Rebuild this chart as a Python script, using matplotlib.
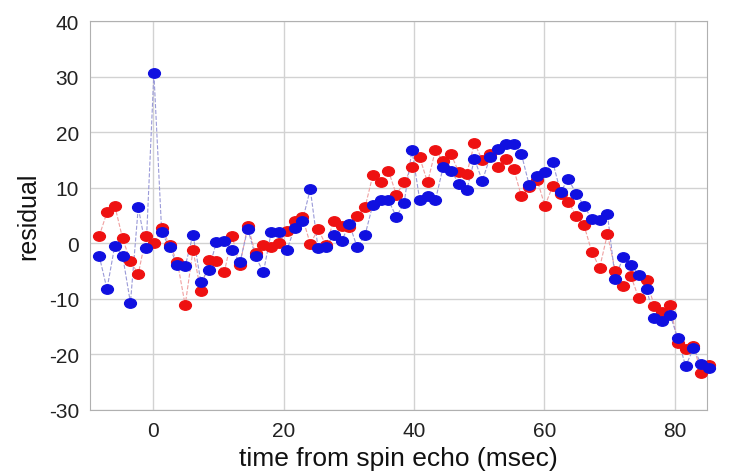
import matplotlib
matplotlib.use('Agg')
from matplotlib import pyplot as plt
from matplotlib.path import Path
from matplotlib.transforms import Affine2D

# sample times (msec from spin echo)
t = [-8.3, -7.1, -5.9, -4.7, -3.5, -2.3, -1.1, 0.1, 1.3, 2.5,
     3.7, 4.9, 6.1, 7.3, 8.5, 9.7, 10.9, 12.1, 13.3, 14.5,
     15.7, 16.9, 18.1, 19.3, 20.5, 21.7, 22.9, 24.1, 25.3, 26.5,
     27.7, 28.9, 30.1, 31.3, 32.5, 33.7, 34.9, 36.1, 37.3, 38.5,
     39.7, 40.9, 42.1, 43.3, 44.5, 45.7, 46.9, 48.1, 49.3, 50.5,
     51.7, 52.9, 54.1, 55.3, 56.5, 57.7, 58.9, 60.1, 61.3, 62.5,
     63.7, 64.9, 66.1, 67.3, 68.5, 69.7, 70.9, 72.1, 73.3, 74.5,
     75.7, 76.9, 78.1, 79.3, 80.5, 81.7, 82.9, 84.1, 85.3]

red_res = [1.3, 5.6, 6.8, 0.9, -3.2, -5.5, 1.3, 0.0, 2.7, -0.2,
           -3.3, -11.1, -1.2, -8.6, -2.9, -3.2, -5.2, 1.3, -3.9, 3.2,
           -1.8, -0.2, -0.7, 0.0, 2.3, 4.1, 4.7, -0.1, 2.6, -0.3,
           4.1, 3.2, 3.0, 5.0, 6.5, 12.3, 11.0, 13.1, 8.8, 11.0,
           13.8, 15.5, 11.0, 16.8, 14.8, 16.1, 12.8, 12.5, 18.1, 15.0,
           16.1, 13.8, 15.2, 13.5, 8.5, 10.1, 11.5, 6.8, 10.3, 9.0,
           7.5, 5.0, 3.3, -1.5, -4.4, 1.7, -4.9, -7.6, -5.9, -9.8,
           -6.6, -11.3, -12.4, -11.1, -17.9, -19.1, -18.4, -23.4, -21.9]

blue_res = [-2.2, -8.2, -0.4, -2.2, -10.7, 6.5, -0.9, 30.7, 2.0, -0.7,
            -3.9, -4.1, 1.6, -6.9, -4.7, 0.2, 0.5, -1.2, -3.4, 2.6,
            -2.3, -5.2, 2.0, 2.0, -1.2, 2.8, 4.1, 9.8, -0.9, -0.6,
            1.5, 0.4, 3.5, -0.7, 1.5, 7.0, 7.8, 7.8, 4.8, 7.3,
            16.8, 7.8, 8.6, 7.8, 13.8, 13.1, 10.8, 9.6, 15.2, 11.3,
            15.6, 17.0, 17.9, 17.9, 16.1, 10.5, 12.2, 12.8, 14.7, 9.3,
            11.6, 9.0, 6.8, 4.4, 4.2, 5.3, -6.4, -2.4, -3.9, -5.6,
            -8.2, -13.5, -13.9, -12.8, -17.1, -22.1, -18.9, -21.7, -22.4]

plt.rcParams['font.family'] = ['Liberation Sans', 'DejaVu Sans']
plt.rcParams['axes.unicode_minus'] = False

# slightly squashed circle, like the stretched original
oval = Path.unit_circle().transformed(Affine2D().scale(1.0, 0.8))

fig = plt.figure(figsize=(7.29, 4.77), dpi=100)
ax = fig.add_axes([0.1235, 0.1384, 0.8465, 0.8145])

# faint dashed connectors
ax.plot(t, red_res, ls='--', lw=0.8, color='#f0a0a0', zorder=2)
ax.plot(t, blue_res, ls='--', lw=0.8, color='#9a9ad8', zorder=2)
ax.plot(t, red_res, ls='none', marker=oval, ms=8.5, color='#ee1111',
        mec='#ee1111', zorder=3, clip_on=False)
ax.plot(t, blue_res, ls='none', marker=oval, ms=8.5, color='#1010e0',
        mec='#1010e0', zorder=4, clip_on=False)

ax.set_xlim(-9.7, 85)
ax.set_ylim(-30, 40)
ax.set_xticks([0, 20, 40, 60, 80])
ax.set_yticks(range(-30, 41, 10))
ax.grid(True, color='#d2d2d2', lw=1)
ax.set_axisbelow(True)
for s in ax.spines.values():
    s.set_color('#b0b0b0')
ax.tick_params(length=0, labelsize=15, pad=8, colors='#222222')
ax.set_xlabel('time from spin echo (msec)', fontsize=19, color='#111111', labelpad=4)
ax.set_ylabel('residual', fontsize=18, color='#111111', labelpad=6)

plt.savefig('out.png', dpi=100)
